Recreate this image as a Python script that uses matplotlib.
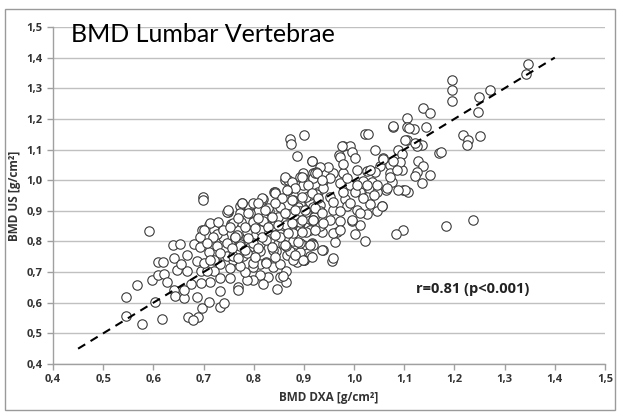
"""BMD lumbar vertebrae: ultrasound vs DXA scatter with identity line."""

import matplotlib
matplotlib.use("Agg")
import matplotlib.pyplot as plt
from matplotlib.patches import Rectangle
from matplotlib.ticker import FuncFormatter, MultipleLocator

# ── Data (x = DXA, y = US), g/cm² ─────────────────────────────────
pts = [
    # sparse outliers / upper tail
    (0.699, 0.944), (0.872, 1.136), (0.900, 1.146), (0.886, 1.078), (0.916, 1.064),
    (0.862, 1.000), (0.868, 1.002), (0.898, 1.009), (0.926, 1.026), (0.840, 0.960),
    (0.749, 0.900), (0.777, 0.920), (0.818, 0.937),
    (1.346, 1.380), (1.342, 1.345), (1.195, 1.328), (1.195, 1.295), (1.195, 1.260),
    (1.271, 1.295), (1.249, 1.270), (1.247, 1.221), (1.137, 1.234), (1.151, 1.218),
    (1.105, 1.204), (1.077, 1.175), (1.105, 1.172), (1.120, 1.167), (1.143, 1.175),
    (1.217, 1.149), (1.250, 1.143), (1.227, 1.130), (1.225, 1.116), (1.021, 1.152),
    (1.027, 1.150), (1.105, 1.130), (1.135, 1.116), (1.125, 1.110), (1.169, 1.090),
    (1.173, 1.091), (0.978, 1.110), (0.992, 1.110), (0.970, 1.081), (0.995, 1.091),
    (1.002, 1.071), (1.041, 1.100), (1.087, 1.097), (1.095, 1.084), (1.127, 1.061),
    (1.137, 1.045), (1.151, 1.016), (1.125, 1.026), (1.121, 1.012), (1.135, 0.990),
    (1.097, 0.967), (1.107, 0.960), (1.095, 1.032), (1.091, 1.058), (1.071, 1.051),
    (1.057, 1.074), (1.071, 1.023), (1.075, 0.993), (1.063, 0.968), (1.051, 1.045),
    (1.041, 1.026), (1.025, 1.030), (1.035, 0.993), (1.018, 0.997), (1.031, 0.968),
    (1.012, 0.962), (1.005, 1.032), (0.978, 1.023), (0.958, 1.022), (0.948, 1.042),
    (0.932, 1.042), (0.917, 1.064), (0.918, 1.022), (0.898, 1.022), (0.905, 0.990),
    (0.938, 0.996), (0.971, 0.990), (0.992, 0.985), (1.002, 0.962), (0.929, 0.962),
    (0.952, 0.946), (0.982, 0.940), (1.025, 0.946), (1.045, 0.962), (0.912, 0.930),
    (0.929, 0.929),
    (1.077, 1.178), (1.109, 1.170), (1.101, 1.130), (1.121, 1.120), (1.058, 1.069),
    (1.078, 1.064), (1.085, 1.032), (1.072, 1.010), (1.101, 0.967), (1.088, 0.967),
    (0.976, 1.110), (0.972, 1.077), (0.978, 1.053), (1.032, 1.032), (1.045, 0.985),
    (1.065, 0.975), (1.025, 0.985), (0.874, 1.117),
    # lower right tail
    (1.237, 0.869), (1.183, 0.850), (1.097, 0.836), (1.083, 0.823), (1.021, 0.800),
    (0.956, 0.735), (0.938, 0.771), (0.900, 0.739), (1.002, 0.823), (0.962, 0.798),
    (0.916, 0.794), (1.055, 0.915), (1.045, 0.898), (1.011, 0.853), (0.995, 0.868),
    (0.972, 0.868), (0.966, 0.830), (0.936, 0.830), (0.922, 0.857), (0.902, 0.846),
    (1.025, 0.888), (1.005, 0.904), (0.985, 0.915), (0.958, 0.904), (0.932, 0.920),
    (0.958, 0.745), (0.898, 0.788), (0.912, 0.752), (0.880, 0.763), (0.958, 0.827),
    (0.972, 0.838), (0.995, 0.871), (1.012, 0.893), (1.032, 0.922), (1.055, 0.917),
    (1.039, 0.953), (1.018, 0.942), (0.992, 0.925), (0.972, 0.900), (0.952, 0.871),
    (0.932, 0.849), (0.912, 0.838), (0.892, 0.860), (0.932, 0.900), (0.958, 0.930),
    (0.978, 0.962), (1.005, 0.985), (0.938, 0.974), (0.912, 0.953), (0.892, 0.922),
    (0.879, 0.953), (0.952, 1.007), (0.918, 1.007), (0.892, 0.991), (0.925, 1.028),
    (0.985, 1.007),
    # lower left tail
    (0.591, 0.833), (0.545, 0.618), (0.545, 0.556), (0.577, 0.530), (0.617, 0.547),
    (0.568, 0.657), (0.603, 0.602), (0.597, 0.674), (0.610, 0.689), (0.622, 0.694),
    (0.610, 0.733), (0.620, 0.734), (0.639, 0.790), (0.654, 0.793), (0.641, 0.746),
    (0.641, 0.642), (0.644, 0.621), (0.661, 0.615), (0.648, 0.708), (0.668, 0.702),
    (0.669, 0.553), (0.689, 0.553), (0.679, 0.542), (0.697, 0.582), (0.711, 0.602),
    (0.733, 0.586), (0.741, 0.600), (0.733, 0.638), (0.713, 0.668), (0.687, 0.620),
    (0.676, 0.660), (0.695, 0.665), (0.695, 0.703), (0.687, 0.735), (0.710, 0.767),
    (0.727, 0.784), (0.711, 0.853), (0.697, 0.837), (0.721, 0.837), (0.748, 0.895),
    (0.754, 0.857), (0.774, 0.862), (0.773, 0.917), (0.791, 0.912), (0.808, 0.901),
    (0.831, 0.901), (0.848, 0.923), (0.867, 0.890), (0.888, 0.912), (0.904, 0.895),
    (0.921, 0.879), (0.917, 0.792), (0.900, 0.738), (0.886, 0.733), (0.866, 0.755),
    (0.864, 0.705), (0.864, 0.667), (0.847, 0.646), (0.829, 0.684), (0.812, 0.690),
    (0.799, 0.673), (0.786, 0.673), (0.769, 0.651), (0.769, 0.640), (0.782, 0.700),
    (0.812, 0.727), (0.825, 0.733), (0.845, 0.770), (0.879, 0.803), (0.892, 0.836),
    (0.872, 0.847), (0.852, 0.825), (0.832, 0.809), (0.812, 0.792), (0.799, 0.765),
    (0.779, 0.754), (0.759, 0.738), (0.746, 0.754), (0.752, 0.714), (0.733, 0.725),
    (0.720, 0.738), (0.720, 0.703), (0.707, 0.703), (0.700, 0.730), (0.733, 0.681),
    (0.752, 0.681), (0.762, 0.814), (0.786, 0.814), (0.799, 0.847), (0.819, 0.857),
    (0.839, 0.868), (0.739, 0.814), (0.726, 0.825), (0.680, 0.793), (0.693, 0.782),
    (0.667, 0.756), (0.656, 0.727), (0.627, 0.668), (0.661, 0.642), (0.693, 0.814),
    (0.752, 0.792), (0.773, 0.792), (0.793, 0.782), (0.859, 0.792), (0.872, 0.770),
    (0.892, 0.765), (0.839, 0.716), (0.799, 0.716), (0.773, 0.720), (0.852, 0.684),
    (0.819, 0.662),
    # dense core
    (0.892, 1.009), (0.922, 1.025), (0.842, 0.960), (0.868, 0.967), (0.898, 0.983),
    (0.816, 0.941), (0.776, 0.924), (0.798, 0.924), (0.713, 0.859), (0.729, 0.864),
    (0.700, 0.838), (0.772, 0.892), (0.792, 0.892), (0.828, 0.908), (0.852, 0.911),
    (0.878, 0.934), (0.905, 0.945), (0.925, 0.956), (0.848, 0.879), (0.872, 0.889),
    (0.892, 0.900), (0.918, 0.911), (0.818, 0.868), (0.798, 0.864), (0.759, 0.859),
    (0.739, 0.838), (0.719, 0.816), (0.706, 0.795), (0.766, 0.822), (0.786, 0.832),
    (0.812, 0.838), (0.839, 0.849), (0.865, 0.855), (0.892, 0.864), (0.918, 0.870),
    (0.746, 0.795), (0.772, 0.784), (0.799, 0.795), (0.825, 0.805), (0.852, 0.816),
    (0.878, 0.827), (0.905, 0.832), (0.733, 0.762), (0.759, 0.751), (0.786, 0.762),
    (0.812, 0.768), (0.839, 0.773), (0.865, 0.784), (0.892, 0.795), (0.918, 0.790),
    (0.713, 0.740), (0.825, 0.730), (0.852, 0.725), (0.878, 0.740), (0.898, 0.740),
    (0.799, 0.730), (0.858, 0.688), (0.747, 0.895), (0.699, 0.934),
    (0.862, 1.009), (0.876, 0.993), (0.896, 1.009), (0.926, 1.022), (0.936, 0.999),
    (0.908, 0.983), (0.882, 0.973), (0.866, 0.967), (0.842, 0.957), (0.856, 0.941),
    (0.876, 0.934), (0.896, 0.944), (0.916, 0.957), (0.928, 0.941), (0.842, 0.924),
    (0.822, 0.902), (0.808, 0.924), (0.776, 0.924), (0.749, 0.902), (0.788, 0.892),
    (0.769, 0.876), (0.753, 0.846), (0.808, 0.876), (0.836, 0.879), (0.862, 0.892),
    (0.882, 0.902), (0.902, 0.902), (0.922, 0.908), (0.936, 0.892), (0.782, 0.846),
    (0.802, 0.843), (0.828, 0.846), (0.848, 0.853), (0.876, 0.859), (0.896, 0.869),
    (0.918, 0.869), (0.938, 0.859), (0.763, 0.814), (0.788, 0.810), (0.816, 0.814),
    (0.842, 0.820), (0.868, 0.827), (0.896, 0.830), (0.922, 0.836), (0.757, 0.778),
    (0.782, 0.771), (0.808, 0.778), (0.836, 0.781), (0.862, 0.788), (0.888, 0.797),
    (0.912, 0.788), (0.936, 0.771), (0.769, 0.745), (0.802, 0.749), (0.842, 0.749),
    (0.882, 0.755), (0.916, 0.749),
]
bmd_dxa = [p[0] for p in pts]
bmd_us = [p[1] for p in pts]

line_x = [0.45, 1.40]
line_y = [0.45, 1.40]

# ── Plot ──────────────────────────────────────────────────
fig = plt.figure(figsize=(6.17, 4.12), dpi=100)
ax = fig.add_axes([0.0859, 0.1165, 0.8946, 0.818])

grid_c = "#c0c0c0"
bold_font = "Open Sans"
ax.scatter(bmd_dxa, bmd_us, s=46, facecolor="white", edgecolor="#3a3a3a",
           linewidth=0.8, zorder=3)
ax.plot(line_x, line_y, color="black", linestyle=(0, (4, 3)), linewidth=1.5, zorder=4)

ax.set_xlim(0.4, 1.5)
ax.set_ylim(0.4, 1.5)
ax.xaxis.set_major_locator(MultipleLocator(0.1))
ax.yaxis.set_major_locator(MultipleLocator(0.1))
fmt = FuncFormatter(lambda v, _: f"{v:.1f}".replace(".", ","))
ax.xaxis.set_major_formatter(fmt)
ax.yaxis.set_major_formatter(fmt)

ax.grid(axis="y", color=grid_c, linewidth=1.0, zorder=0)
ax.set_axisbelow(True)
for side in ("top", "right"):
    ax.spines[side].set_visible(False)
for side in ("left", "bottom"):
    ax.spines[side].set_color("#a0a0a0")
    ax.spines[side].set_linewidth(1.0)
ax.tick_params(axis="both", colors="#a0a0a0", length=4, width=1.0,
               labelcolor="#333333", labelsize=8)
for lab in ax.get_xticklabels() + ax.get_yticklabels():
    lab.set_fontweight("bold")
    lab.set_family(bold_font)

ax.set_xlabel("BMD DXA [g/cm²]", fontsize=8.5, fontweight="bold", family=bold_font,
              color="#333333", labelpad=4)
ax.set_ylabel("BMD US [g/cm²]", fontsize=8.5, fontweight="bold", family=bold_font,
              color="#333333", labelpad=4)

ax.text(0.033, 1.012, "BMD Lumbar Vertebrae", transform=ax.transAxes, fontsize=18,
        family="Lato", color="black", va="top", ha="left")
ax.text(1.237, 0.645, "r=0.81 (p<0.001)", fontsize=10.5, fontweight="bold",
        family=bold_font, color="#222222", ha="center", va="center")

# outer chart border
fig.patches.append(Rectangle((5 / 617, 2 / 412), 610 / 617, 401 / 412,
                             transform=fig.transFigure, fill=False,
                             edgecolor="#9a9a9a", linewidth=1.0))

plt.savefig("out.png", dpi=100)
print("Saved out.png")
